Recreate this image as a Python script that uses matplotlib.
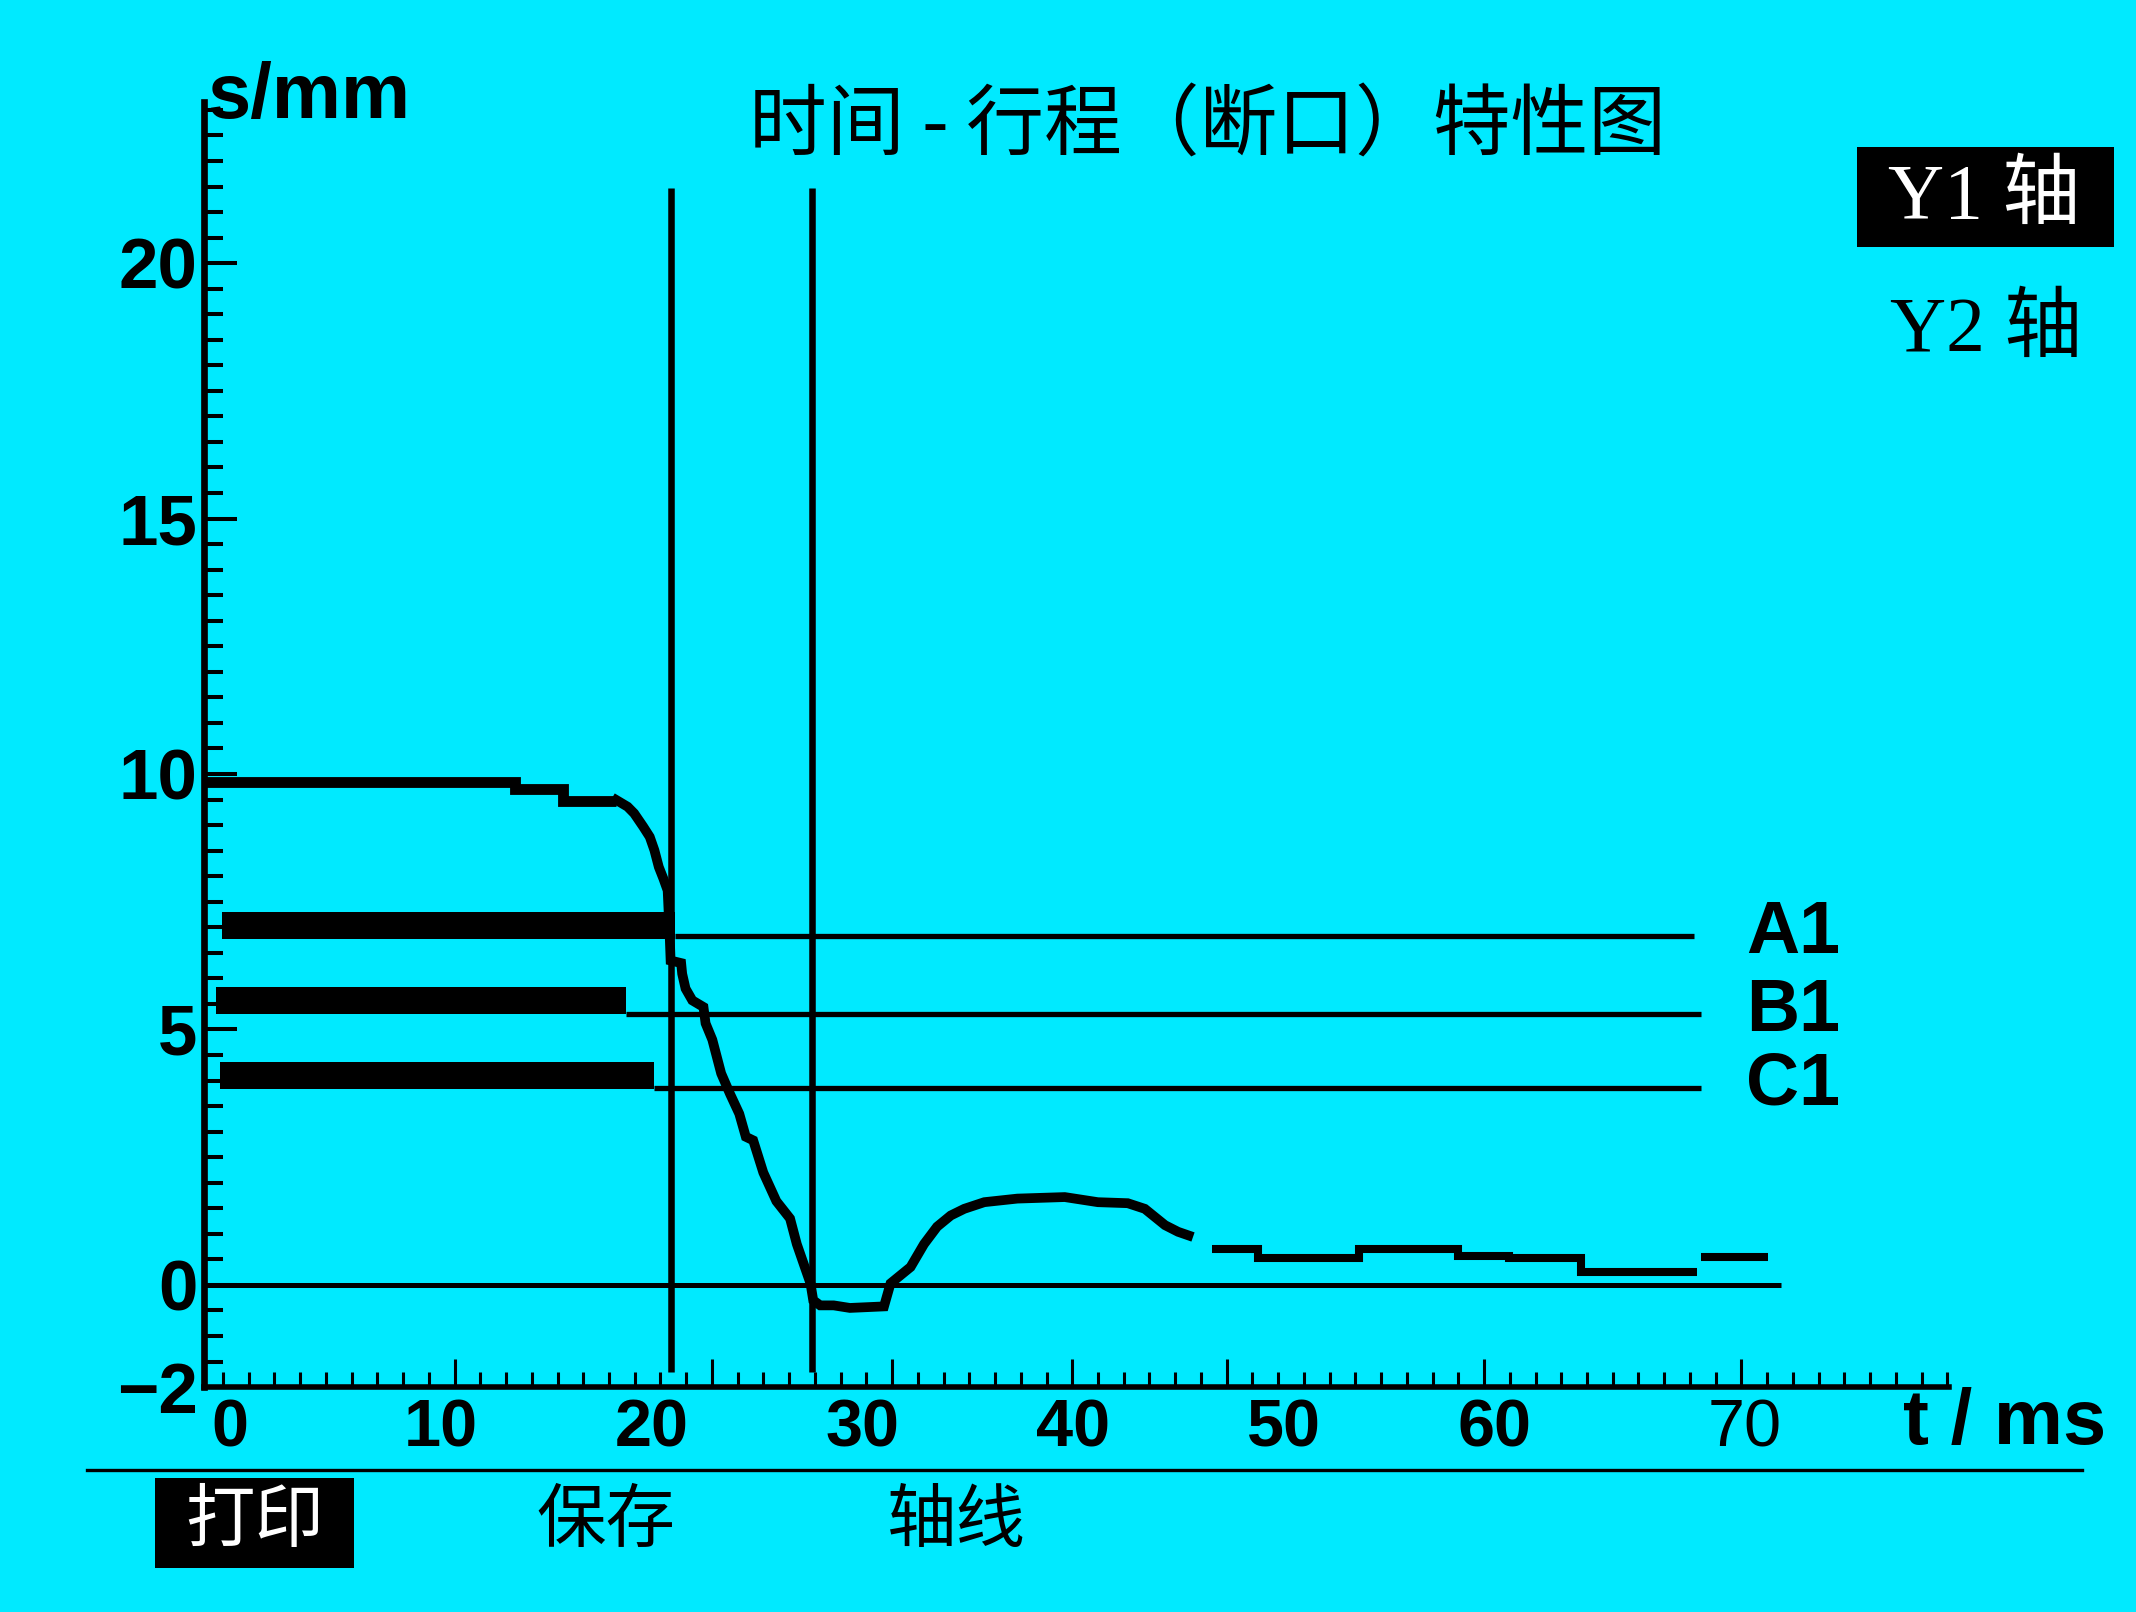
import matplotlib
matplotlib.use('Agg')
import matplotlib.pyplot as plt
from matplotlib.patches import Rectangle
from matplotlib.lines import Line2D
from matplotlib.ticker import FixedLocator
import numpy as np

plt.rcParams['font.family'] = ['Liberation Sans', 'Noto Sans CJK SC']

BG = '#00eaff'

# stroke before the contacts move (t in ms, s in mm)
plateau_edges = [-1.2, 13.5, 15.8, 18.3]
plateau_s = [9.85, 9.71, 9.47]

# travel curve through the break
curve_t = [18.33, 18.86, 19.17, 19.60, 19.91, 20.13, 20.34, 20.56, 20.76, 20.85,
           20.90, 21.40, 21.45, 21.61, 21.93, 22.46, 22.56, 22.88, 23.30, 23.72,
           24.16, 24.47, 24.82, 25.30, 25.92, 26.57, 26.89, 27.21, 27.54, 27.67,
           28.00, 28.64, 29.41, 31.03, 31.34, 32.29, 32.93, 33.55, 34.20, 34.84,
           35.79, 37.36, 39.61, 41.18, 42.60, 43.41, 43.89, 44.37, 44.99, 45.48]
curve_s = [9.49, 9.36, 9.23, 8.97, 8.77, 8.51, 8.18, 7.95, 7.72, 6.90,
           6.35, 6.30, 6.09, 5.80, 5.57, 5.44, 5.12, 4.80, 4.14, 3.74,
           3.35, 2.90, 2.83, 2.20, 1.64, 1.30, 0.80, 0.42, 0.03, -0.30,
           -0.40, -0.40, -0.45, -0.42, 0.03, 0.35, 0.80, 1.14, 1.36, 1.49,
           1.62, 1.69, 1.72, 1.62, 1.60, 1.49, 1.33, 1.17, 1.04, 0.97]

# settling steps after the overshoot
tail_edges = [46.6, 48.8, 53.6, 58.3, 60.7, 64.1, 69.6]
tail_s = [0.70, 0.53, 0.71, 0.56, 0.52, 0.25]
last_edges = [69.8, 73.0]
last_s = [0.55]

# contact thresholds
thr_names = ['A1', 'B1', 'C1']
thr_bar_s = [7.03, 5.56, 4.10]
thr_line_s = [6.83, 5.31, 3.86]
thr_bar_start = [-0.4, -0.7, -0.5]
thr_bar_end = [21.1, 18.8, 20.1]
thr_line_end = [69.5, 69.8, 69.8]

# cursor lines
cursor_t = [20.94, 27.60]

x_labels = ['0', '10', '20', '30', '40', '50', '60', '70']
x_label_t = [0, 10, 20, 30, 40, 50, 60, 71.9]
y_labels = ['\u22122', '0', '5', '10', '15', '20']
y_label_s = [-2, 0, 5, 10, 15, 20]

menu = ['打印', '保存', '轴线']

fig = plt.figure(figsize=(21.36, 16.12), dpi=100, facecolor=BG)
ax = fig.add_axes([0.0957, 0.1395, 0.8169, 0.7971])
ax.set_facecolor(BG)
ax.set_xlim(-1.23, 81.6)
ax.set_ylim(-2, 23.15)

for side in ['top', 'right']:
    ax.spines[side].set_visible(False)
ax.spines['left'].set_linewidth(4.8)
ax.spines['bottom'].set_linewidth(4.0)

# y ticks
ax.yaxis.set_major_locator(FixedLocator(y_label_s))
ax.yaxis.set_minor_locator(FixedLocator(np.arange(-1.5, 23.1, 0.5)))
ax.set_yticklabels(y_labels)
ax.tick_params(axis='y', which='major', direction='in', length=23.5, width=2.9,
               pad=5, labelsize=51)
ax.tick_params(axis='y', which='minor', direction='in', length=13.7, width=2.9)
for lab in ax.get_yticklabels():
    lab.set_fontweight('bold')

# x ticks: a uniform grid of short marks with some taller ones
step = 1.2217
anchor = 71.73
ks = np.arange(-8, 60)
grid = anchor - step * ks
tall_k = [0, 10, 20, 26, 33, 40, 50]
tall = [anchor - step * k for k in tall_k]
small = [g for k, g in zip(ks, grid) if k not in tall_k]
ax.xaxis.set_major_locator(FixedLocator(tall))
ax.xaxis.set_minor_locator(FixedLocator(small))
ax.tick_params(axis='x', which='major', direction='in', length=20, width=2.2,
               labelbottom=False)
ax.tick_params(axis='x', which='minor', direction='in', length=10.8, width=2.2)

sec = ax.secondary_xaxis('bottom')
sec.spines['bottom'].set_visible(False)
sec.set_xticks(x_label_t)
sec.set_xticklabels(x_labels)
sec.tick_params(axis='x', length=0, pad=8, labelsize=48)
for i, lab in enumerate(sec.get_xticklabels()):
    lab.set_fontweight('normal' if i == len(x_labels) - 1 else 'bold')

# curve
ax.stairs(plateau_s, plateau_edges, baseline=None, color='k', lw=7.8)
ax.plot(curve_t, curve_s, color='k', lw=7, solid_joinstyle='miter')
ax.stairs(tail_s, tail_edges, baseline=None, color='k', lw=5.8)
ax.stairs(last_s, last_edges, baseline=None, color='k', lw=5.8)

# zero line and cursors
ax.hlines(0, -1.23, 73.6, color='k', lw=3.6)
ax.vlines(cursor_t, -1.71, 21.47, color='k', lw=4.7)

# thresholds
ax.barh(thr_bar_s, np.array(thr_bar_end) - np.array(thr_bar_start),
        left=thr_bar_start, height=0.53, color='k')
ax.hlines(thr_line_s, thr_bar_end, thr_line_end, color='k', lw=3.8)
for name, s in zip(thr_names, thr_line_s):
    ax.text(71.95, s + 0.05, name, fontsize=53, fontweight='bold', ha='left', va='center')

# texts around the plot
fig.text(0.0972, 0.9265, 's/mm', fontsize=56, fontweight='bold', va='baseline')
fig.text(0.891, 0.104, 't / ms', fontsize=56, fontweight='bold', va='baseline')
fig.text(0.5654, 0.921, '时间 - 行程（断口）特性图', fontsize=56,
         family=['Noto Sans CJK SC'], ha='center', va='center')

fig.patches.append(Rectangle((0.8693, 0.847), 0.1205, 0.062, transform=fig.transFigure,
                             facecolor='k', edgecolor='none'))
fig.text(0.8839, 0.8766, 'Y1 轴', fontsize=56, color='white',
         family=['Liberation Serif', 'Noto Sans CJK SC'], va='center')
fig.text(0.8846, 0.7937, 'Y2 轴', fontsize=56, color='k',
         family=['Liberation Serif', 'Noto Sans CJK SC'], va='center')

# bottom menu
fig.lines.append(Line2D([0.0408, 0.9745], [0.0879, 0.0879], transform=fig.transFigure,
                        color='k', lw=2.4))
fig.patches.append(Rectangle((0.0727, 0.0272), 0.0931, 0.0561, transform=fig.transFigure,
                             facecolor='k', edgecolor='none'))
menu_x = [0.1193, 0.2838, 0.4477]
for i, (label, x) in enumerate(zip(menu, menu_x)):
    fig.text(x, 0.0566, label, fontsize=50, family=['Noto Sans CJK SC'],
             color='white' if i == 0 else 'k', ha='center', va='center')

fig.savefig('out.png', dpi=100, facecolor=BG)
